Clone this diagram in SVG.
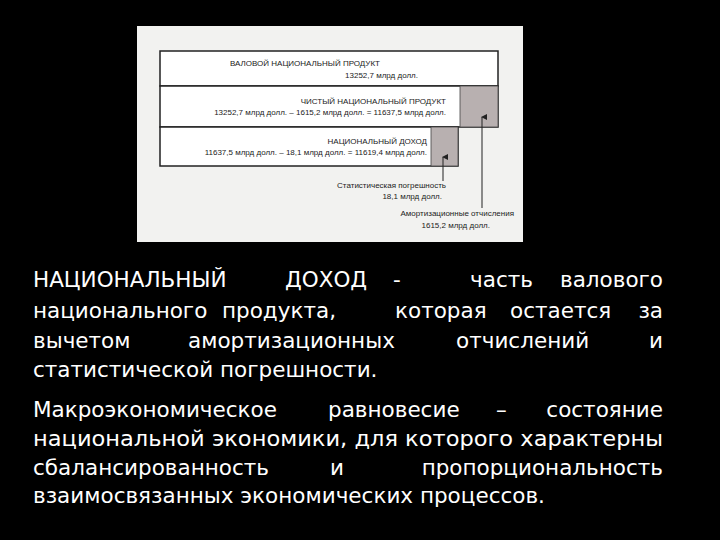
<svg xmlns="http://www.w3.org/2000/svg" width="720" height="540" viewBox="0 0 720 540">
<style>
.s{font-family:"Liberation Sans",Arial,sans-serif;font-size:8px;fill:#222}
.b{font-family:"DejaVu Sans","Liberation Sans",sans-serif;font-size:21.5px;fill:#fff}
.e{text-anchor:end}
.box{fill:#fff;stroke:#222;stroke-width:1.5}
.g{fill:#b8b0b0;stroke:#444;stroke-width:0.8}
.ln{stroke:#222;stroke-width:1;fill:none}
</style>
<defs><marker id="a" markerWidth="6" markerHeight="6" refX="3" refY="1" orient="auto" markerUnits="userSpaceOnUse"><path d="M0,6 L3,0 L6,6Z" fill="#222"/></marker></defs>
<rect width="720" height="540" fill="#000"/>
<rect x="137" y="26" width="386" height="216" fill="#f2f2f0"/>
<g id="gnp"><rect class="box" x="160" y="51" width="338" height="35"/>
<text class="s" x="380" y="66" text-anchor="end">ВАЛОВОЙ НАЦИОНАЛЬНЫЙ ПРОДУКТ</text>
<text class="s" x="418" y="78" text-anchor="end">13252,7 млрд долл.</text></g>
<g id="nnp"><rect class="box" x="160" y="86" width="338" height="41"/>
<rect class="g" x="460" y="86" width="38" height="41"/>
<text class="s" x="446" y="104" text-anchor="end">ЧИСТЫЙ НАЦИОНАЛЬНЫЙ ПРОДУКТ</text>
<text class="s" x="446" y="115" text-anchor="end">13252,7 млрд долл. – 1615,2 млрд долл. = 11637,5 млрд долл.</text></g>
<g id="ni"><rect class="box" x="160" y="127" width="298" height="39"/>
<rect class="g" x="431" y="127" width="27" height="39"/>
<text class="s" x="427" y="144" text-anchor="end">НАЦИОНАЛЬНЫЙ ДОХОД</text>
<text class="s" x="427" y="155" text-anchor="end">11637,5 млрд долл. – 18,1 млрд долл. = 11619,4 млрд долл.</text></g>
<g id="connectors">
<line class="ln" x1="443" y1="181" x2="443" y2="157" marker-end="url(#a)"/>
<line class="ln" x1="482" y1="208" x2="482" y2="117" marker-end="url(#a)"/>
</g>
<g id="stat"><text class="s" x="446" y="188" text-anchor="end">Статистическая погрешность</text>
<text class="s" x="442" y="199" text-anchor="end">18,1 млрд долл.</text></g>
<g id="amort"><text class="s" x="514" y="216" text-anchor="end">Амортизационные отчисления</text>
<text class="s" x="490" y="228" text-anchor="end">1615,2 млрд долл.</text></g>
<text class="b" y="287"><tspan x="33">НАЦИОНАЛЬНЫЙ</tspan><tspan x="285">ДОХОД</tspan><tspan x="393">-</tspan><tspan x="470">часть</tspan></text>
<text class="b e" x="663" y="287">валового</text>
<text class="b" y="318"><tspan x="33">национального</tspan><tspan x="222">продукта,</tspan><tspan x="395">которая</tspan><tspan x="510">остается</tspan></text>
<text class="b e" x="663" y="318">за</text>
<text class="b" y="348"><tspan x="33">вычетом</tspan><tspan x="188">амортизационных</tspan><tspan x="456">отчислений</tspan></text>
<text class="b e" x="663" y="348">и</text>
<text class="b" x="33" y="377">статистической погрешности.</text>
<text class="b" y="417"><tspan x="33">Макроэкономическое</tspan><tspan x="328">равновесие</tspan><tspan x="496">–</tspan></text>
<text class="b e" x="663" y="417">состояние</text>
<text class="b" x="33" y="446" textLength="630" lengthAdjust="spacingAndGlyphs">национальной экономики, для которого характерны</text>
<text class="b" y="475"><tspan x="33">сбалансированность</tspan><tspan x="330">и</tspan></text>
<text class="b e" x="663" y="475">пропорциональность</text>
<text class="b" x="33" y="503">взаимосвязанных экономических процессов.</text>
</svg>
